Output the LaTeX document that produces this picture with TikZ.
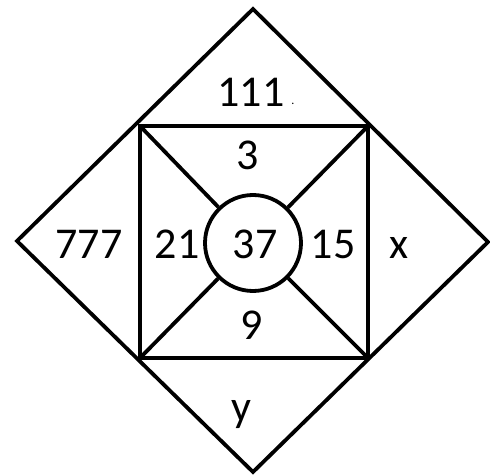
\documentclass[tikz,border=0pt]{standalone}
\usepackage{fontspec}
\setmainfont{Carlito}
\usetikzlibrary{positioning, calc}

\tikzset{
    edge/.style={line width=3.8pt, line join=miter, black},
    num/.style={anchor=base, inner sep=0pt, font=\fontsize{44}{44}\selectfont}
}

\begin{document}
\begin{tikzpicture}[x=1pt, y=-1pt]
                \useasboundingbox (0,0) rectangle (490,476);

                % outer diamond
                \coordinate (top) at (253,9);
                \coordinate (left) at (17,241);
                \coordinate (right) at (488,242);
                \coordinate (bot) at (253,472);
                \draw[edge] (top) -- (right) -- (bot) -- (left) -- cycle;

                % inner square
                \coordinate (sqA) at (140,126);
                \coordinate (sqB) at (368,126);
                \coordinate (sqC) at (368,358);
                \coordinate (sqD) at (140,358);
                \draw[edge] (sqA) -- (sqB) -- (sqC) -- (sqD) -- cycle;

                % centre circle and spokes
                \node[edge, draw, circle, minimum size=96pt, inner sep=0pt] (mid) at (253,243) {};
                \draw[edge] (sqA) -- (mid);
                \draw[edge] (sqB) -- (mid);
                \draw[edge] (sqC) -- (mid);
                \draw[edge] (sqD) -- (mid);

                \node[num] (ntop) at (251,107) {111};
                \node[anchor=base, inner sep=0pt, font=\fontsize{12}{12}\selectfont] (ndot) at (293,105) {.};
                \node[num] (nthree) at (248,170) {3};
                \node[num] (nleft) at (89,258) {777};
                \node[num] (ntwo) at (177,258) {21};
                \node[num] (nmid) at (255,258) {37};
                \node[num] (nfive) at (333,258) {15};
                \node[num] (nx) at (399,258) {x};
                \node[num] (nnine) at (252,339) {9};
                \node[num] (ny) at (241,421) {y};
            \end{tikzpicture}
\end{document}
